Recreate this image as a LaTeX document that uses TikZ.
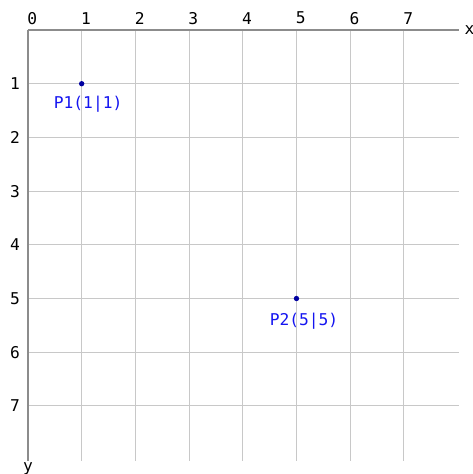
\documentclass[tikz,border=0pt]{standalone}
\usepackage{fontspec}
\setmonofont{DejaVu Sans Mono}
\usepackage{tikz}

\definecolor{gridgray}{RGB}{200,200,200}
\definecolor{axisgray}{RGB}{140,140,140}
\definecolor{ptblue}{RGB}{0,0,160}
\definecolor{lblblue}{RGB}{20,20,240}

\begin{document}
\begin{tikzpicture}
	[
	x=1cm, y=-1cm,
	font=\ttfamily\fontsize{8.6}{10}\selectfont,
	grid/.style={draw=gridgray, line width=0.45pt},
	axis/.style={draw=axisgray, line width=0.9pt},
	tick/.style={inner sep=0pt},
	pt/.style={circle, fill=ptblue, inner sep=0pt, minimum size=0.1cm},
	ptlabel/.style={text=lblblue, inner sep=0pt},
	]
		\useasboundingbox (-0.521,-0.559) rectangle (8.287,8.268);
		
		% grid
		\foreach \i in {1,...,7} {
			\draw[grid] (\i,0) -- (\i,8.03);
			\draw[grid] (0,\i) -- (8.03,\i);
		}
		
		% axes
		\coordinate (o) at 		( 0.0,  0.0 );
		\coordinate (xe) at 		( 8.03, 0.0 );
		\coordinate (ye) at 		( 0.0,  8.03 );
		\draw[axis] (o) -- (xe);
		\draw[axis] (o) -- (ye);
		\node[tick] (xl) at 		( 8.22, 0.0 ) {x};
		\node[tick] (yl) at 		( 0.0,  8.17 ) {y};
		
		% tick labels
		\foreach \i in {0,...,7}
			\node[tick] (xt\i) at (\i+0.08,-0.22) {\i};
		\foreach \i in {1,...,7}
			\node[tick] (yt\i) at (-0.24,\i) {\i};
		
		% points
		\node[pt] (p1) at 		( 1.0,  1.0 ) {};
		\node[pt] (p2) at 		( 5.0,  5.0 ) {};
		\node[ptlabel] (p1l) at 	( 1.12, 1.38 ) {P1(1|1)};
		\node[ptlabel] (p2l) at 	( 5.14, 5.42 ) {P2(5|5)};
		
	\end{tikzpicture}
\end{document}
